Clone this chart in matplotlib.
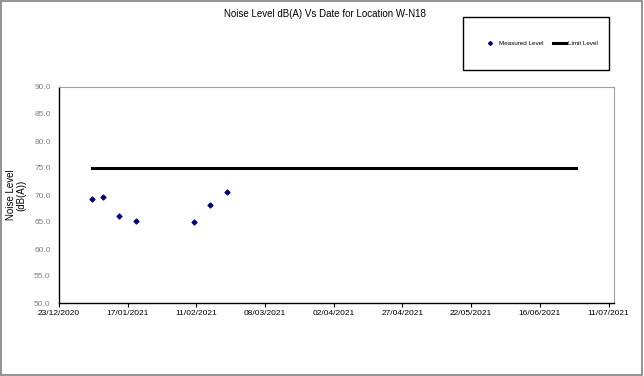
import matplotlib
matplotlib.use("Agg")
import matplotlib.pyplot as plt
import matplotlib.dates as mdates
from matplotlib.patches import Rectangle
import datetime as dt

plt.rcParams['font.family'] = ['Liberation Sans', 'DejaVu Sans']

# 측정값
dates = ["2021-01-04", "2021-01-08", "2021-01-14", "2021-01-20",
         "2021-02-10", "2021-02-16", "2021-02-22"]
levels = [69.2, 69.7, 66.2, 65.2, 65.0, 68.1, 70.5]

# 기준선
limit_dates = ["2021-01-04", "2021-06-29"]
limit_values = [75.0, 75.0]

tick_dates = ["2020-12-23", "2021-01-17", "2021-02-11", "2021-03-08", "2021-04-02",
              "2021-04-27", "2021-05-22", "2021-06-16", "2021-07-11"]

to_d = lambda s: dt.datetime.strptime(s, "%Y-%m-%d")

fig = plt.figure(figsize=(6.44, 3.76), dpi=100)
ax = fig.add_axes([59/644, 1 - 303/376, 555/644, 216/376])

ax.plot([to_d(d) for d in limit_dates], limit_values, color="black", lw=2.2, label="Limit Level", zorder=2)
ax.scatter([to_d(d) for d in dates], levels, marker="D", s=6, color="#000080", label="Measured Level", zorder=3)

ax.set_xlim(to_d(tick_dates[0]), to_d(tick_dates[-1]) + dt.timedelta(days=2))
ax.set_ylim(50, 90)
ax.set_xticks([to_d(d) for d in tick_dates])
ax.xaxis.set_major_formatter(mdates.DateFormatter("%d/%m/%Y"))
ax.set_yticks(range(50, 91, 5))
ax.set_yticklabels([f"{v:.1f}" for v in range(50, 91, 5)])
ax.tick_params(axis="x", labelsize=6, length=3, width=0.8, direction="out", pad=2, colors="black")
ax.tick_params(axis="y", labelsize=6, length=0, pad=6, labelcolor="#808080")

for s in ["left", "bottom"]:
    ax.spines[s].set_color("black")
    ax.spines[s].set_linewidth(1.0)
for s in ["top", "right"]:
    ax.spines[s].set_color("#a0a0a0")
    ax.spines[s].set_linewidth(0.8)

fig.text(16/644, 1 - 195/376, "Noise Level\n(dB(A))", rotation=90, ha="center", va="center",
         fontsize=7, linespacing=1.1)

fig.text(325/644, 1 - 14/376, "Noise Level dB(A) Vs Date for Location W-N18",
         ha="center", va="center", fontsize=7)

# 범례
fig.patches.append(Rectangle((463/644, 1 - 70/376), 146/644, 53/376, transform=fig.transFigure,
                             fill=False, edgecolor="black", lw=1.0))
handles, labels = ax.get_legend_handles_labels()
order = [1, 0]
leg = fig.legend([handles[i] for i in order], [labels[i] for i in order],
                 loc="center", bbox_to_anchor=(541/644, 1 - 43/376),
                 ncol=2, fontsize=4.5, frameon=False,
                 handlelength=2.0, columnspacing=1.6, handletextpad=0.4, markerscale=0.8)

# 바깥 테두리
fig.patches.append(Rectangle((0.002, 0.003), 0.995, 0.994, transform=fig.transFigure,
                             fill=False, edgecolor="#808080", lw=1.2))

fig.savefig("out.png", dpi=100)
